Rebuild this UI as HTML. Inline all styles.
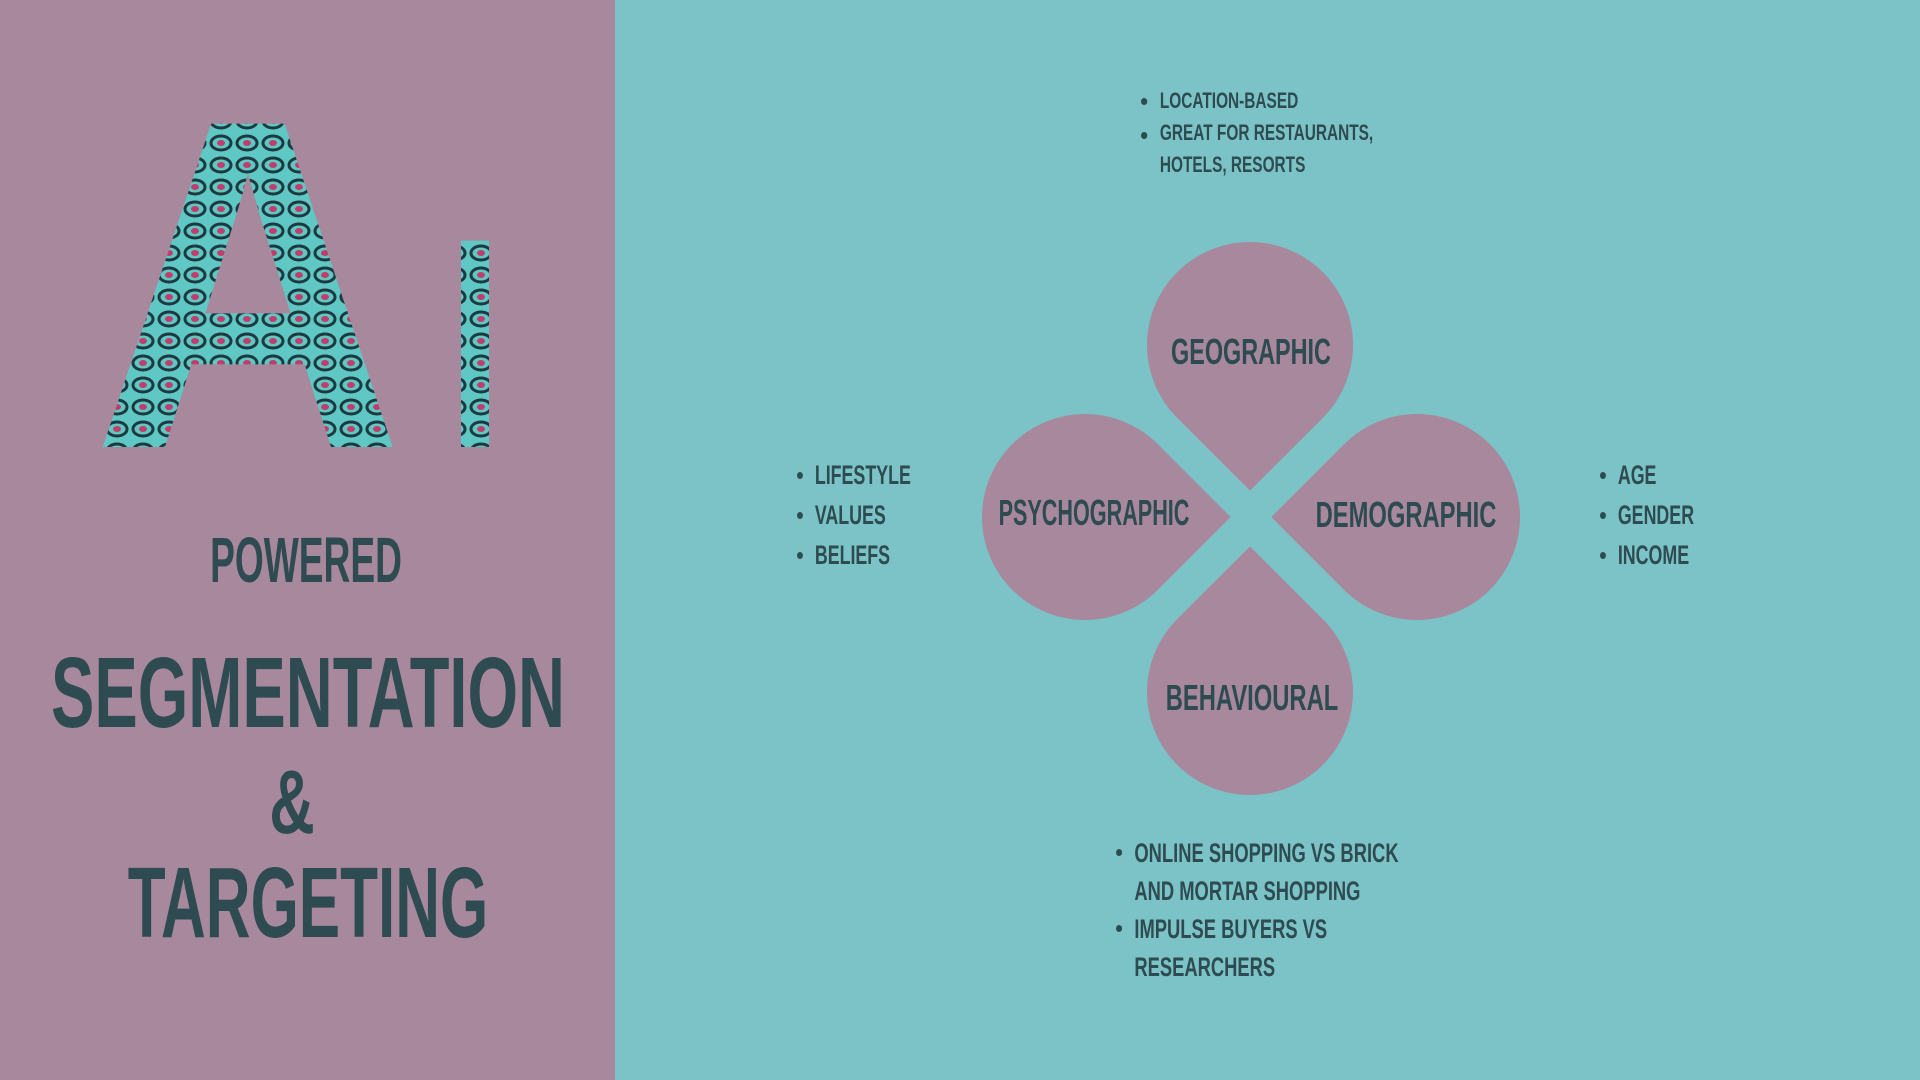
<!DOCTYPE html>
<html><head><meta charset="utf-8"><style>
*{margin:0;padding:0;box-sizing:border-box}
body{width:1920px;height:1080px;overflow:hidden;background:#7bc3c6;font-family:"Liberation Sans",sans-serif;color:#2e4b52;position:relative}
#left{position:absolute;left:0;top:0;width:615px;height:1080px;background:#a8889d}
.t{position:absolute;white-space:nowrap;font-weight:bold;text-transform:uppercase;transform-origin:center;}
.c{text-align:center;width:800px}
.petal{position:absolute;width:206px;height:206px;background:#a8889d;border-radius:50%;transform:rotate(45deg)}
ul{position:absolute;list-style:none;font-weight:bold;text-transform:uppercase;white-space:nowrap;transform-origin:left top}
li{position:relative;padding-left:27px}
li:before{content:"";position:absolute;left:0;top:calc(50% - 3px);width:9px;height:7px;border-radius:50%;background:#2e4b52}
li.m:before{top:15px}
</style></head><body>
<div id="left"></div>
<svg style="position:absolute;left:0;top:0" width="615" height="480">
<defs><pattern id="p" width="26" height="22" patternUnits="userSpaceOnUse">
<rect width="26" height="22" fill="#5fc8c4"/>
<ellipse cx="13" cy="11" rx="10" ry="7" fill="none" stroke="#1d3a40" stroke-width="3"/>
<ellipse cx="13" cy="11" rx="4" ry="3" fill="#c23c6a"/>
</pattern></defs>
<text x="92" y="447" font-family="Liberation Sans" font-weight="bold" font-size="470" fill="url(#p)" textLength="312" lengthAdjust="spacingAndGlyphs">A</text>
<text x="448" y="447" font-family="Liberation Sans" font-weight="bold" font-size="300" fill="url(#p)" textLength="54" lengthAdjust="spacingAndGlyphs">I</text>
</svg>
<div class="t c" style="left:-94px;top:523px;font-size:64px;transform:scaleX(0.58)">Powered</div>
<div class="t c" style="left:-92px;top:636px;font-size:100px;transform:scaleX(0.65)">Segmentation</div>
<div class="t c" style="left:-108px;top:752px;font-size:90px;transform:scaleX(0.7)">&amp;</div>
<div class="t c" style="left:-92px;top:846px;font-size:100px;transform:scaleX(0.62)">Targeting</div>

<div class="petal" style="left:1147px;top:242px;border-bottom-right-radius:0"></div>
<div class="petal" style="left:982px;top:414px;border-top-right-radius:0"></div>
<div class="petal" style="left:1314px;top:414px;border-bottom-left-radius:0"></div>
<div class="petal" style="left:1147px;top:589px;border-top-left-radius:0"></div>

<div class="t c" style="left:851px;top:331px;font-size:36px;transform:scaleX(0.65)">Geographic</div>
<div class="t c" style="left:694px;top:492px;font-size:36px;transform:scaleX(0.6)">Psychographic</div>
<div class="t c" style="left:1006px;top:494px;font-size:36px;transform:scaleX(0.66)">Demographic</div>
<div class="t c" style="left:852px;top:677px;font-size:36px;transform:scaleX(0.66)">Behavioural</div>

<ul style="left:1141px;top:85px;font-size:22px;line-height:32px;transform:scaleX(0.7)">
<li>Location-based</li><li class="m">Great for restaurants,<br>hotels, resorts</li></ul>
<ul style="left:797px;top:455px;font-size:27px;line-height:40px;transform:scaleX(0.66)">
<li>Lifestyle</li><li>Values</li><li>Beliefs</li></ul>
<ul style="left:1600px;top:455px;font-size:27px;line-height:40px;transform:scaleX(0.66)">
<li>Age</li><li>Gender</li><li>Income</li></ul>
<ul style="left:1116px;top:834px;font-size:27px;line-height:38px;transform:scaleX(0.68)">
<li class="m">Online shopping vs brick<br>and mortar shopping</li><li class="m">Impulse buyers vs<br>researchers</li></ul>
</body></html>
